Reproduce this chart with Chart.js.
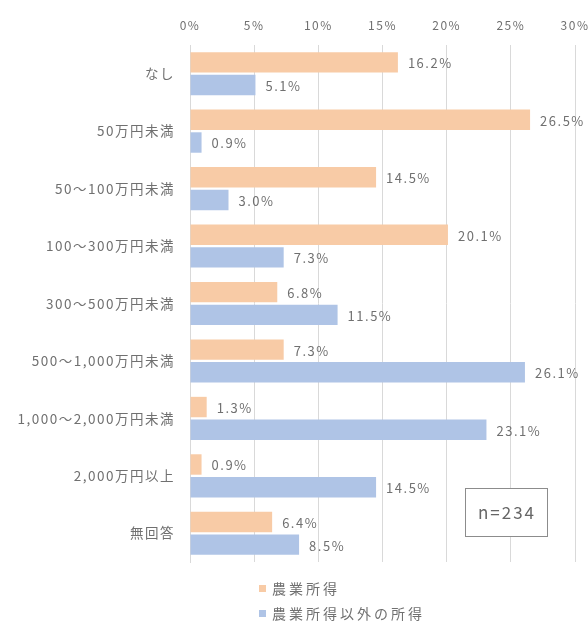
<!DOCTYPE html>
<html>
<head>
<meta charset="utf-8">
<script src="https://cdn.jsdelivr.net/npm/chart.js@4/dist/chart.umd.min.js"></script>
<style>
  html, body { margin: 0; padding: 0; background: #fff; }
  #wrap { position: relative; width: 588px; height: 621px; }
</style>
</head>
<body>
<div id="wrap"><canvas id="myChart" width="588" height="621"></canvas></div>
<script>
const categories = ["なし", "50万円未満", "50～100万円未満", "100～300万円未満", "300～500万円未満",
  "500～1,000万円未満", "1,000～2,000万円未満", "2,000万円以上", "無回答"];
const farmIncome = [16.2, 26.5, 14.5, 20.1, 6.8, 7.3, 1.3, 0.9, 6.4];
const otherIncome = [5.1, 0.9, 3.0, 7.3, 11.5, 26.1, 23.1, 14.5, 8.5];
const seriesNames = ["農業所得", "農業所得以外の所得"];
const xTicks = [0, 5, 10, 15, 20, 25, 30];

const FONT = "'Noto Sans CJK JP', 'Noto Sans', sans-serif";
const TEXT = "#707070";
const ORANGE = "#f8cba6";
const BLUE = "#afc4e6";

// the source image is stretched sideways, so widen the text a little
const spacing = {
  id: "spacing",
  beforeLayout(chart) { chart.ctx.letterSpacing = "1.5px"; },
  beforeDraw(chart) { chart.ctx.letterSpacing = "1.5px"; }
};

// value labels next to bar ends
const valueLabels = {
  id: "valueLabels",
  afterDatasetsDraw(chart) {
    const ctx = chart.ctx;
    ctx.save();
    ctx.font = "13px " + FONT;
    ctx.fillStyle = TEXT;
    ctx.textBaseline = "middle";
    chart.data.datasets.forEach((ds, i) => {
      chart.getDatasetMeta(i).data.forEach((bar, j) => {
        ctx.fillText(ds.data[j].toFixed(1) + "%", bar.x + 10, bar.y + 1);
      });
    });
    ctx.restore();
  }
};

// n box and legend
const extras = {
  id: "extras",
  afterDraw(chart) {
    const ctx = chart.ctx;
    ctx.save();
    ctx.fillStyle = "#fff";
    ctx.fillRect(465, 488, 82, 48);
    ctx.strokeStyle = "#8c8c8c";
    ctx.lineWidth = 1;
    ctx.strokeRect(465.5, 488.5, 82, 48);
    ctx.fillStyle = "#666";
    ctx.letterSpacing = "2px";
    ctx.font = "17px " + FONT;
    ctx.textAlign = "center";
    ctx.textBaseline = "middle";
    ctx.fillText("n=234", 507, 513);

    ctx.textAlign = "left";
    ctx.letterSpacing = "3px";
    ctx.font = "14px " + FONT;
    const colors = [ORANGE, BLUE];
    seriesNames.forEach((name, i) => {
      const y = 588 + i * 25;
      ctx.fillStyle = colors[i];
      ctx.fillRect(259, y - 3, 7, 7);
      ctx.fillStyle = TEXT;
      ctx.fillText(name, 272, y + 1);
    });
    ctx.restore();
  }
};

const barChart = new Chart(document.getElementById("myChart"), {
  type: "bar",
  data: {
    labels: categories,
    datasets: [
      { label: seriesNames[0], data: farmIncome, backgroundColor: ORANGE },
      { label: seriesNames[1], data: otherIncome, backgroundColor: BLUE }
    ]
  },
  options: {
    indexAxis: "y",
    responsive: false,
    animation: false,
    layout: { padding: { left: 0, right: 0, top: 0, bottom: 59 } },
    datasets: { bar: { categoryPercentage: 0.79, barPercentage: 0.9 } },
    scales: {
      x: {
        position: "top",
        min: 0,
        max: 30,
        afterBuildTicks(scale) { scale.ticks = xTicks.map(v => ({ value: v })); },
        afterFit(scale) {
          scale.height = 45;
          scale.paddingLeft = 0;
          scale.paddingRight = 13;
        },
        ticks: {
          color: TEXT,
          font: { family: FONT, size: 12 },
          padding: 12,
          callback: v => v + "%"
        },
        grid: { color: "#d9d9d9", drawTicks: false },
        border: { display: false }
      },
      y: {
        afterFit(scale) { scale.width = 190; },
        ticks: {
          color: TEXT,
          font: { family: FONT, size: 13.5 },
          padding: 7
        },
        grid: { display: false },
        border: { display: true, color: "#d9d9d9" }
      }
    },
    plugins: {
      legend: { display: false },
      tooltip: { enabled: false }
    }
  },
  plugins: [spacing, valueLabels, extras]
});
</script>
</body>
</html>
